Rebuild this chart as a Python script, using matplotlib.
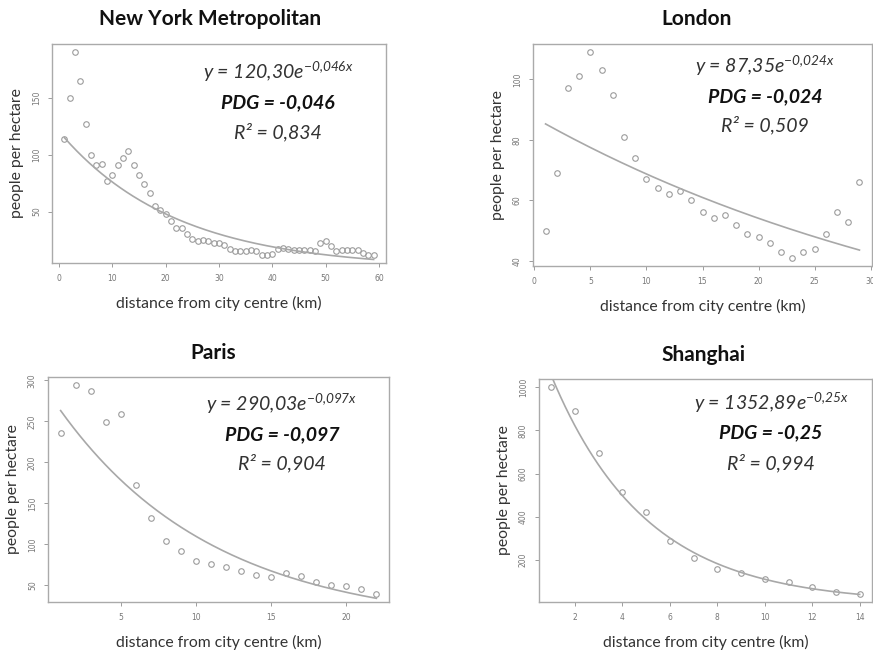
import numpy as np
import matplotlib
matplotlib.use("Agg")
import matplotlib.pyplot as plt

plt.rcParams["mathtext.fontset"] = "custom"
plt.rcParams["mathtext.rm"] = "Lato:italic"
plt.rcParams["mathtext.it"] = "Lato:italic"

# ============================
# DATA
# ============================

ny_dist = list(range(1, 60))
ny_density = [114, 150, 190, 165, 127, 100, 91, 92, 77, 82,
              91, 97, 103, 91, 82, 74, 66, 55, 51, 48,
              42, 36, 36, 30, 26, 24, 25, 24, 22, 22,
              21, 17, 15, 15, 15, 16, 15, 12, 12, 13,
              17, 18, 17, 16, 16, 16, 16, 15, 22, 24,
              20, 15, 16, 16, 16, 16, 14, 12, 12]

london_dist = list(range(1, 30))
london_density = [50, 69, 97, 101, 109, 103, 95, 81, 74, 67,
                  64, 62, 63, 60, 56, 54, 55, 52, 49, 48,
                  46, 43, 41, 43, 44, 49, 56, 53, 66]

paris_dist = list(range(1, 23))
paris_density = [236, 294, 287, 249, 259, 172, 132, 104, 92, 80,
                 76, 72, 68, 63, 60, 65, 61, 54, 50, 49, 46, 40]

shanghai_dist = list(range(1, 15))
shanghai_density = [1000, 890, 694, 514, 422, 290, 211, 159, 139, 113,
                    98, 75, 52, 44]

# fitted model y = a * exp(b * x), as printed on the chart
fit_a = [120.30, 87.35, 290.03, 1352.89]
fit_b = [-0.046, -0.024, -0.097, -0.25]
fit_r2 = ["0,834", "0,509", "0,904", "0,994"]
fit_a_txt = ["120,30", "87,35", "290,03", "1352,89"]
fit_b_txt = ["-0{,}046", "-0{,}024", "-0{,}097", "-0{,}25"]
fit_pdg_txt = ["-0,046", "-0,024", "-0,097", "-0,25"]

titles = ["New York Metropolitan", "London", "Paris", "Shanghai"]

x_ticks = [[0, 10, 20, 30, 40, 50, 60], [0, 5, 10, 15, 20, 25, 30],
           [5, 10, 15, 20], [2, 4, 6, 8, 10, 12, 14]]
y_ticks = [[50, 100, 150], [40, 60, 80, 100],
           [50, 100, 150, 200, 250, 300], [200, 400, 600, 800, 1000]]

# ============================
# LAYOUT (pixels: left, top, right, bottom)
# ============================

W, H = 873, 659
boxes = [(52, 44, 386, 263), (533, 44, 872, 266),
         (48, 377, 389, 602), (539, 379, 872, 602)]
title_pos = [(210, 19), (697, 19), (213, 353), (703, 355)]
text_pos = [(278, 72, 103, 132), (765, 66, 97, 125),
            (282, 404, 435, 463), (771, 403, 433, 463)]

GREY = "#9c9c9c"
TXT = "#333333"


def r_limits(vals):
    lo, hi = min(vals), max(vals)
    pad = 0.04 * (hi - lo)
    return lo - pad, hi + pad


def draw_panel(fig, i, dist, dens):
    l, t, r, b = boxes[i]
    ax = fig.add_axes([l / W, 1 - b / H, (r - l) / W, (b - t) / H])
    ax.plot(dist, dens, linestyle="none", marker="o", markersize=4,
            markerfacecolor="none", markeredgecolor=GREY, markeredgewidth=0.8)
    xs = np.linspace(dist[0], dist[-1], 200)
    ax.plot(xs, fit_a[i] * np.exp(fit_b[i] * xs), color="#a8a8a8", lw=1.2)
    ax.set_xlim(r_limits(dist))
    ax.set_ylim(r_limits(dens))
    ax.set_xticks(x_ticks[i])
    ax.set_yticks(y_ticks[i])
    ax.tick_params(direction="out", length=3, width=0.7, colors=GREY,
                   labelsize=5.5, labelcolor="#777777", pad=5)
    for lab in ax.get_yticklabels():
        lab.set_rotation(90)
        lab.set_va("center")
    for sp in ax.spines.values():
        sp.set_color("#aaaaaa")
        sp.set_linewidth(1.0)

    tx0, ty0 = title_pos[i]
    fig.text(tx0 / W, 1 - ty0 / H, titles[i],
             ha="center", va="center", fontsize=15, fontweight="bold",
             family="Lato", color="#111111")
    ax.set_xlabel("distance from city centre (km)", fontsize=11.3,
                  family="Lato", color=TXT, labelpad=9)
    ax.set_ylabel("people per hectare", fontsize=11.3, family="Lato",
                  color=TXT, labelpad=6)

    tx, y1, y2, y3 = text_pos[i]
    fig.text(tx / W, 1 - y1 / H,
             "y = " + fit_a_txt[i] + "e$^{" + fit_b_txt[i] + "x}$",
             ha="center", va="center", fontsize=14, style="italic",
             family="Lato", color=TXT)
    fig.text(tx / W, 1 - y2 / H, "PDG = " + fit_pdg_txt[i],
             ha="center", va="center", fontsize=14, style="italic",
             fontweight="bold", family="Lato", color="#111111")
    fig.text(tx / W, 1 - y3 / H, "R\u00b2 = " + fit_r2[i],
             ha="center", va="center", fontsize=14, style="italic",
             family="Lato", color=TXT)
    return ax


fig = plt.figure(figsize=(W / 100, H / 100), dpi=100)
draw_panel(fig, 0, ny_dist, ny_density)
draw_panel(fig, 1, london_dist, london_density)
draw_panel(fig, 2, paris_dist, paris_density)
draw_panel(fig, 3, shanghai_dist, shanghai_density)
fig.savefig("out.png", dpi=100)
